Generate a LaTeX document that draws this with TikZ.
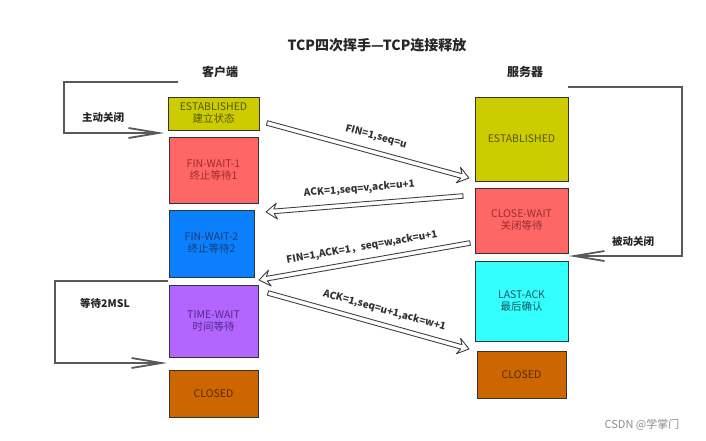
\documentclass[tikz,border=0pt]{standalone}
\usepackage{fontspec}
\setmainfont{Noto Sans CJK SC}
\usetikzlibrary{arrows.meta,calc}
\definecolor{estF}{HTML}{CCCC00}
\definecolor{estT}{HTML}{575700}
\definecolor{redF}{HTML}{FF6666}
\definecolor{redT}{HTML}{9A2E2E}
\definecolor{blueF}{HTML}{0A80FF}
\definecolor{blueT}{HTML}{1C3A72}
\definecolor{purF}{HTML}{B266FF}
\definecolor{purT}{HTML}{55288A}
\definecolor{orF}{HTML}{CC6600}
\definecolor{orT}{HTML}{562B00}
\definecolor{cyF}{HTML}{33FFFF}
\definecolor{cyT}{HTML}{1A5666}
% hollow block arrow from #1 to #2, label #5 at pos #3, distance #4
\newcommand\hollowmsg[5]{%
  \coordinate (hb) at ($(#2)!8pt!(#1)$);
  \coordinate (ab) at ($(#2)!11pt!(#1)$);
  \draw[msgline] ($(#1)!2.3pt!90:(#2)$) -- ($(hb)!2.3pt!90:(#2)$) -- ($(ab)!8pt!90:(#2)$)
     -- (#2) -- ($(ab)!8pt!-90:(#2)$) -- ($(hb)!2.3pt!-90:(#2)$) -- ($(#1)!2.3pt!-90:(#2)$) -- cycle;
  \path (#1) -- node[lbl, pos=#3, sloped, above=#4] {#5} (#2);
}
\begin{document}
\begin{tikzpicture}[x=1pt,y=-1pt,
  box/.style={draw=black!80, line width=0.8pt, inner sep=0pt, align=center,
    font=\fontsize{10.5}{12}\selectfont},
  msgline/.style={draw=black!75, fill=white, line width=0.9pt, line join=round},
  bracket/.style={draw=black!65, line width=1.8pt, -{Straight Barb[length=30pt,width=10pt]}},
  lbl/.style={font=\bfseries\fontsize{10}{12}\selectfont, text=black!80, inner sep=1pt},
  side/.style={font=\bfseries\fontsize{10.5}{12}\selectfont, text=black!85},
  ]
\useasboundingbox[fill=white] (0,0) rectangle (706,441);

% titles
\node[font=\bfseries\fontsize{14}{16}\selectfont, text=black!85] (title) at (377,45) {TCP四次挥手—TCP连接释放};
\node[font=\bfseries\fontsize{12}{14}\selectfont, text=black!85] (client) at (220,72) {客户端};
\node[font=\bfseries\fontsize{12}{14}\selectfont, text=black!85] (server) at (525,72) {服务器};

% client boxes
\node[box, fill=estF, text=estT, minimum width=91pt, minimum height=33pt] (cEst) at (213.5,113.5) {ESTABLISHED\\建立状态};
\node[box, fill=redF, text=redT, minimum width=89pt, minimum height=66pt] (cFW1) at (213.5,170) {FIN-WAIT-1\\终止等待1};
\node[box, fill=blueF, text=blueT, minimum width=85pt, minimum height=67pt] (cFW2) at (211.5,243.5) {FIN-WAIT-2\\终止等待2};
\node[box, fill=purF, text=purT, minimum width=89pt, minimum height=72pt] (cTW) at (213.5,321) {TIME-WAIT\\时间等待};
\node[box, fill=orF, text=orT, minimum width=89pt, minimum height=47pt] (cCl) at (213.5,393.5) {CLOSED};

% server boxes
\node[box, fill=estF, text=estT, minimum width=93pt, minimum height=84pt] (sEst) at (521.5,139) {ESTABLISHED};
\node[box, fill=redF, text=redT, minimum width=93pt, minimum height=65pt] (sCW) at (521.5,220.5) {CLOSE-WAIT\\关闭等待};
\node[box, fill=cyF, text=cyT, minimum width=93pt, minimum height=80pt] (sLA) at (521.5,301) {LAST-ACK\\最后确认};
\node[box, fill=orF, text=orT, minimum width=89pt, minimum height=47pt] (sCl) at (521.5,374.5) {CLOSED};

% brackets
\coordinate (b1s) at (178,82);
\coordinate (b1e) at (164,133);
\draw[bracket] (b1s) -- (64,82) |- (b1e);
\node[side] (l1) at (103,117) {主动关闭};

\coordinate (b2s) at (568,87);
\coordinate (b2e) at (569,256);
\draw[bracket] (b2s) -- (682,87) |- (b2e);
\node[side] (l2) at (633,241) {被动关闭};

\coordinate (b3s) at (168,281);
\coordinate (b3e) at (167,363);
\draw[bracket] (b3s) -- (55,281) |- (b3e);
\node[side] (l3) at (105,303) {等待2MSL};

% messages
\coordinate (m1s) at (267,123);
\coordinate (m1e) at (469,178);
\coordinate (m2s) at (463,196);
\coordinate (m2e) at (266,212);
\coordinate (m3s) at (470,243);
\coordinate (m3e) at (259,280);
\coordinate (m4s) at (268,293);
\coordinate (m4e) at (469,349);

\hollowmsg{m1s}{m1e}{0.52}{9pt}{FIN=1,seq=u}
\hollowmsg{m2s}{m2e}{0.52}{9pt}{ACK=1,seq=v,ack=u+1}
\hollowmsg{m3s}{m3e}{0.5}{8pt}{FIN=1,ACK=1，seq=w,ack=u+1}
\hollowmsg{m4s}{m4e}{0.56}{8pt}{ACK=1,seq=u+1,ack=w+1}

\node[font=\fontsize{11}{13}\selectfont, text=black!45] (wm) at (642,425) {CSDN @学掌门};
\end{tikzpicture}
\end{document}
